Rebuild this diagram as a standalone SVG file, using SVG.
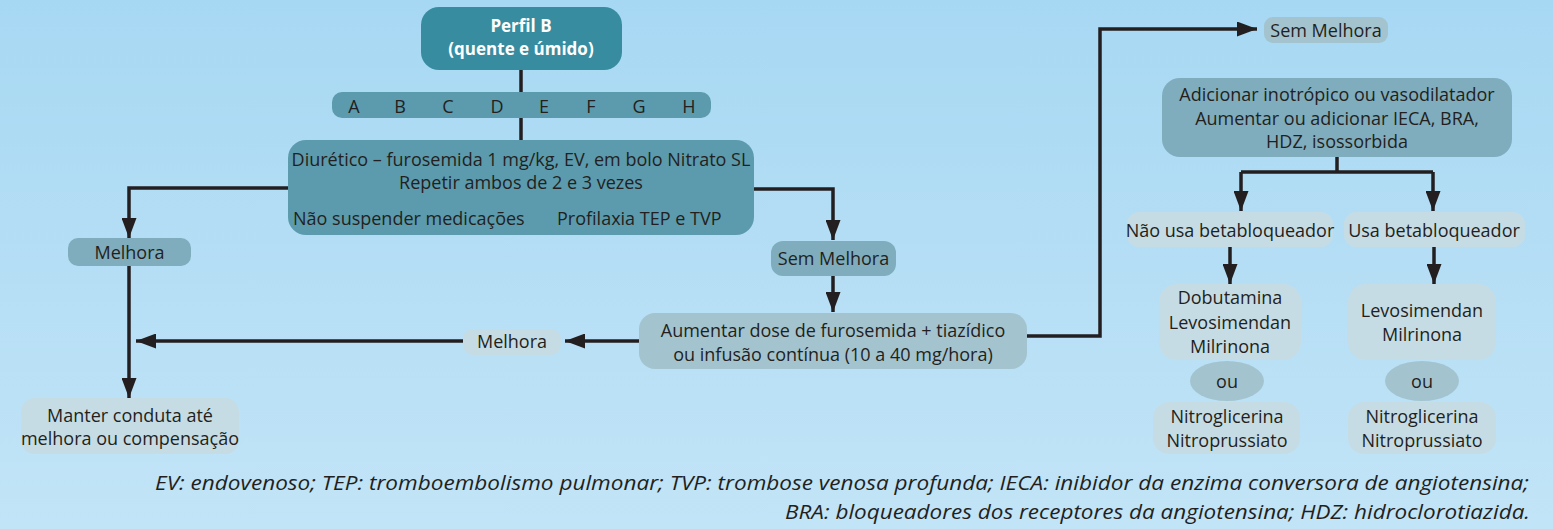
<svg xmlns="http://www.w3.org/2000/svg" width="1553" height="529" viewBox="0 0 1553 529">
<defs>
<linearGradient id="bg" x1="0" y1="0" x2="0" y2="1">
<stop offset="0" stop-color="#A7D8F3"/>
<stop offset="1" stop-color="#C2E4F7"/>
</linearGradient>
<marker id="ah" viewBox="0 0 20 15" refX="20" refY="7.5" markerWidth="20" markerHeight="15" markerUnits="userSpaceOnUse" orient="auto">
<path d="M0,0 L20,7.5 L0,15 z" fill="#231F20"/>
</marker>
<style>
.t{font-family:"Open Sans","Liberation Sans",sans-serif;font-size:18px;fill:#231F20;text-anchor:middle}
.w{font-family:"Open Sans","Liberation Sans",sans-serif;font-size:17px;font-weight:bold;fill:#FFFFFF;text-anchor:middle}
.n{font-family:"Open Sans","Liberation Sans",sans-serif;font-size:20px;font-style:italic;fill:#231F20}
.c{fill:none;stroke:#231F20;stroke-width:3.5}
.a{marker-end:url(#ah)}
.dk{fill:#378C9F}
.md{fill:#5B9BAD}
.lt{fill:#7FADBD}
.pl{fill:#A3C4CF}
.vl{fill:#C6DCE4}
</style>
</defs>
<rect width="1553" height="529" fill="url(#bg)"/>

<g id="connectors">
<path class="c" d="M521,70 V92"/>
<path class="c" d="M521,118 V140"/>
<path class="c a" d="M288,188 H129 V238"/>
<path class="c a" d="M129,266 V398"/>
<path class="c a" d="M754,189 H833 V240"/>
<path class="c a" d="M833,276 V312"/>
<path class="c a" d="M639,341 H565"/>
<path class="c a" d="M463,341 H136"/>
<path class="c a" d="M1027,336 H1100 V29 H1257"/>
<path class="c" d="M1337,157 V172 M1241,172 H1433"/>
<path class="c a" d="M1241,172 V211"/>
<path class="c a" d="M1433,172 V211"/>
<path class="c a" d="M1230,247 V284"/>
<path class="c a" d="M1434,247 V284"/>
</g>

<g id="perfil">
<rect class="dk" x="421" y="7" width="201" height="63" rx="18"/>
<text class="w" x="521" y="32">Perfil B</text>
<text class="w" x="521" y="55">(quente e úmido)</text>
</g>

<g id="letras">
<rect class="md" x="332" y="92" width="379" height="26" rx="10"/>
<text class="t" x="354" y="113">A</text>
<text class="t" x="400" y="113">B</text>
<text class="t" x="448" y="113">C</text>
<text class="t" x="497" y="113">D</text>
<text class="t" x="544" y="113">E</text>
<text class="t" x="591" y="113">F</text>
<text class="t" x="639" y="113">G</text>
<text class="t" x="689" y="113">H</text>
</g>

<g id="diuretico">
<rect class="md" x="288" y="140" width="466" height="95" rx="18"/>
<text class="t" x="521" y="166">Diurético – furosemida 1 mg/kg, EV, em bolo Nitrato SL</text>
<text class="t" x="521" y="189">Repetir ambos de 2 e 3 vezes</text>
<text class="t" x="293" y="225" style="text-anchor:start">Não suspender medicações</text>
<text class="t" x="557" y="225" style="text-anchor:start">Profilaxia TEP e TVP</text>
</g>

<g id="melhora1">
<rect class="lt" x="68" y="238" width="123" height="28" rx="10"/>
<text class="t" x="129.5" y="259">Melhora</text>
</g>

<g id="manter">
<rect class="vl" x="21" y="398" width="218" height="56" rx="14"/>
<text class="t" x="130" y="422">Manter conduta até</text>
<text class="t" x="130" y="445">melhora ou compensação</text>
</g>

<g id="semmelhora1">
<rect class="lt" x="771" y="241" width="125" height="35" rx="12"/>
<text class="t" x="833.5" y="265">Sem Melhora</text>
</g>

<g id="aumentar">
<rect class="pl" x="639" y="313" width="388" height="56" rx="16"/>
<text class="t" x="833" y="337">Aumentar dose de furosemida + tiazídico</text>
<text class="t" x="833" y="361">ou infusão contínua (10 a 40 mg/hora)</text>
</g>

<g id="melhora2">
<rect class="vl" x="463" y="329" width="98" height="26" rx="10"/>
<text class="t" x="512" y="348">Melhora</text>
</g>

<g id="semmelhora2">
<rect class="pl" x="1264" y="17" width="124" height="26" rx="9"/>
<text class="t" x="1326" y="37">Sem Melhora</text>
</g>

<g id="adicionar">
<rect class="lt" x="1162" y="78" width="350" height="79" rx="18"/>
<text class="t" x="1337" y="101">Adicionar inotrópico ou vasodilatador</text>
<text class="t" x="1337" y="125">Aumentar ou adicionar IECA, BRA,</text>
<text class="t" x="1337" y="148">HDZ, isossorbida</text>
</g>

<g id="naousa">
<rect class="vl" x="1127" y="212" width="206" height="35" rx="12"/>
<text class="t" x="1230" y="237">Não usa betabloqueador</text>
</g>

<g id="usa">
<rect class="vl" x="1344" y="212" width="181" height="35" rx="12"/>
<text class="t" x="1434" y="237">Usa betabloqueador</text>
</g>

<g id="dobutamina">
<rect class="vl" x="1159" y="284" width="142" height="76" rx="18"/>
<text class="t" x="1230" y="304">Dobutamina</text>
<text class="t" x="1230" y="329">Levosimendan</text>
<text class="t" x="1230" y="353">Milrinona</text>
</g>

<g id="ou1">
<ellipse class="pl" cx="1227" cy="381" rx="37" ry="20"/>
<text class="t" x="1227" y="388">ou</text>
</g>

<g id="nitro1">
<rect class="vl" x="1153" y="402" width="147" height="52" rx="16"/>
<text class="t" x="1227" y="423">Nitroglicerina</text>
<text class="t" x="1227" y="447">Nitroprussiato</text>
</g>

<g id="levosimendan">
<rect class="vl" x="1348" y="284" width="148" height="76" rx="18"/>
<text class="t" x="1422" y="317">Levosimendan</text>
<text class="t" x="1422" y="341">Milrinona</text>
</g>

<g id="ou2">
<ellipse class="pl" cx="1422" cy="381" rx="37" ry="20"/>
<text class="t" x="1422" y="388">ou</text>
</g>

<g id="nitro2">
<rect class="vl" x="1348" y="402" width="148" height="52" rx="16"/>
<text class="t" x="1422" y="423">Nitroglicerina</text>
<text class="t" x="1422" y="447">Nitroprussiato</text>
</g>

<g id="nota">
<text class="n" x="155" y="490" textLength="1374" lengthAdjust="spacingAndGlyphs">EV: endovenoso; TEP: tromboembolismo pulmonar; TVP: trombose venosa profunda; IECA: inibidor da enzima conversora de angiotensina;</text>
<text class="n" x="785" y="519" textLength="745" lengthAdjust="spacingAndGlyphs">BRA: bloqueadores dos receptores da angiotensina; HDZ: hidroclorotiazida.</text>
</g>
</svg>
